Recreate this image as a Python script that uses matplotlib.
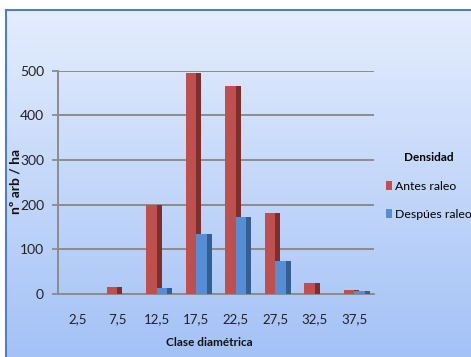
import numpy as np
import matplotlib
matplotlib.use("Agg")
import matplotlib.pyplot as plt
from matplotlib.patches import Rectangle, Patch
from matplotlib.colors import LinearSegmentedColormap

plt.rcParams['font.family'] = ['Lato', 'DejaVu Sans']

categories = ["2,5", "7,5", "12,5", "17,5", "22,5", "27,5", "32,5", "37,5"]
antes_raleo = [0, 15, 200, 495, 465, 181, 25, 9]
despues_raleo = [0, 0, 13, 133, 173, 73, 0, 6]
series_names = ["Antes raleo", "Despúes raleo"]
yticks = [0, 100, 200, 300, 400, 500]

red_front, red_side = "#c0504d", "#7d2f2d"
blue_front, blue_side = "#558ed5", "#365f91"

W, H = 471, 357
fig = plt.figure(figsize=(W / 100, H / 100), dpi=100)
fig.patch.set_facecolor("white")

# gradient background inside a blue frame
bg = fig.add_axes([6 / W, 0, 1 - 6 / W, 1 - 10 / H], zorder=0)
grad = np.linspace(0, 1, 256).reshape(-1, 1)
cmap = LinearSegmentedColormap.from_list("bg", ["#e4edfd", "#a4c2f6"])
bg.imshow(grad, aspect="auto", cmap=cmap, extent=[0, 1, 0, 1], origin="upper")
bg.set_xlim(0, 1)
bg.set_ylim(0, 1)
bg.set_xticks([])
bg.set_yticks([])
for side, sp in bg.spines.items():
    sp.set_color("#4f81bd")
    sp.set_linewidth(1.5)
bg.spines["right"].set_visible(False)
bg.spines["bottom"].set_visible(False)

x0, x1 = 58, 374
yb, yt = 293.7, 70.7
ax = fig.add_axes([x0 / W, 1 - yb / H, (x1 - x0) / W, (yb - yt) / H], zorder=1)
ax.patch.set_alpha(0)

n = len(categories)
ax.set_xlim(0, n)
ax.set_ylim(0, 500)

fw, sw = 0.27, 0.125
for i in range(n):
    c = i + 0.5
    a, d = antes_raleo[i], despues_raleo[i]
    if a > 0:
        ax.add_patch(Rectangle((c - fw, 0), fw, a, facecolor=red_front, edgecolor="none", zorder=3))
        ax.add_patch(Rectangle((c, 0), sw, a, facecolor=red_side, edgecolor="none", zorder=3))
    if d > 0:
        ax.add_patch(Rectangle((c + 0.005, 0), fw - 0.01, d, facecolor=blue_front, edgecolor="none", zorder=4))
        ax.add_patch(Rectangle((c + fw - 0.005, 0), sw, d, facecolor=blue_side, edgecolor="none", zorder=4))

ax.set_yticks(yticks)
ax.set_yticklabels([str(v) for v in yticks], fontsize=10, color="#222222")
ax.set_xticks(np.arange(n) + 0.5)
ax.set_xticklabels(categories, fontsize=9.5, color="#222222")
ax.tick_params(axis="x", length=0, pad=14)
ax.tick_params(axis="y", length=4, width=1.3, color="#8c8c8c", pad=6)
ax.yaxis.grid(True, color="#8c8c8c", linewidth=1.4, zorder=1)
ax.set_axisbelow(True)
for k in ["top", "right"]:
    ax.spines[k].set_visible(False)
ax.spines["left"].set_color("#8c8c8c")
ax.spines["left"].set_linewidth(1.4)
ax.spines["bottom"].set_color("#8c8c8c")
ax.spines["bottom"].set_linewidth(1.4)

fig.text(209 / W, 1 - 342 / H, "Clase diamétrica", fontsize=8.5, fontweight="bold",
         ha="center", va="center", color="#111111")
fig.text(15 / W, 1 - 182 / H, "nº arb / ha", fontsize=10, fontweight="bold",
         ha="center", va="center", rotation=90, color="#111111")

handles = [Patch(facecolor=red_front, label=series_names[0]),
           Patch(facecolor=blue_front, label=series_names[1])]
leg = fig.legend(handles=handles, title="Densidad", loc="upper left",
                 bbox_to_anchor=(377 / W, 1 - 143 / H), frameon=False,
                 fontsize=8.8, title_fontproperties={"weight": "bold", "size": 8.5},
                 handlelength=0.5, handleheight=0.8, handletextpad=0.3,
                 labelspacing=1.4, borderpad=0.2)
leg._legend_box.align = "center"
leg._legend_box.sep = 13

fig.savefig("out.png", dpi=100)
